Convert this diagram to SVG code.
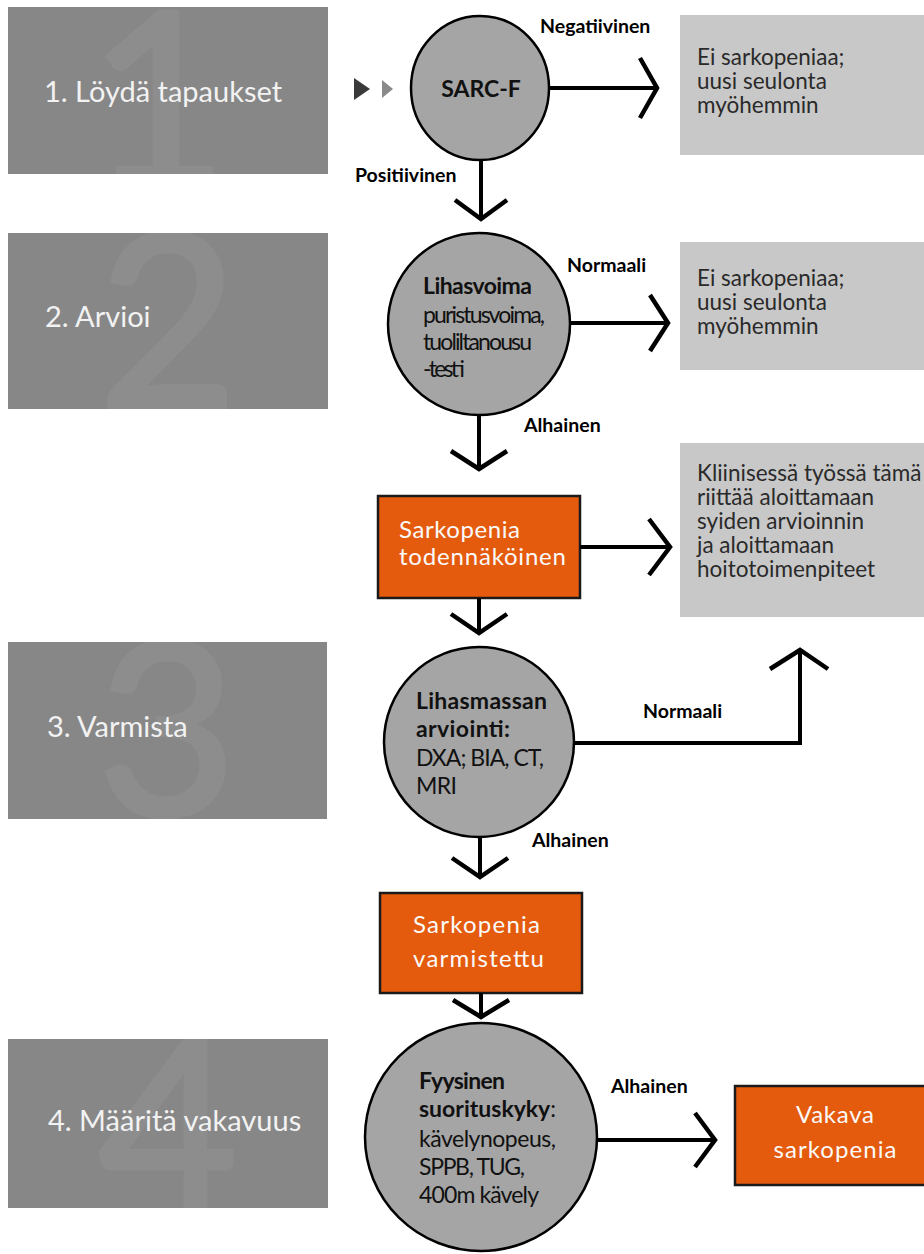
<svg xmlns="http://www.w3.org/2000/svg" width="924" height="1254" viewBox="0 0 924 1254">
<style>
.stage{fill:#878787}
.digit{fill:#8d8d8d;stroke:#8d8d8d;stroke-width:5;font-family:Lato,"Open Sans",sans-serif;font-size:240px;text-anchor:middle}
.stxt{fill:#f2f2f2;font-family:Lato,"Open Sans",sans-serif;font-size:29px}
.info{fill:#c8c8c8}
.itxt{fill:#2a2a2a;font-family:Lato,"Open Sans",sans-serif;font-size:22.5px}
.circ{fill:#a5a5a5;stroke:#000;stroke-width:2.5}
.ctxt{fill:#111;font-family:Lato,"Open Sans",sans-serif;font-size:23px}
.b{font-weight:bold}
.obox{fill:#e55b0d;stroke:#1a1a1a;stroke-width:2.5}
.otxt{fill:#fafafa;font-family:Lato,"Open Sans",sans-serif;font-size:24px}
.lbl{fill:#000;font-family:Lato,"Open Sans",sans-serif;font-size:19.5px;font-weight:bold}
.ln{fill:none;stroke:#000;stroke-width:4}
.hd{fill:none;stroke:#000;stroke-width:4.5;stroke-linejoin:miter}
</style>
<defs>
<clipPath id="c1"><rect x="8" y="7" width="320" height="167"/></clipPath>
<clipPath id="c2"><rect x="8" y="233" width="320" height="176"/></clipPath>
<clipPath id="c3"><rect x="8" y="642" width="319" height="177"/></clipPath>
<clipPath id="c4"><rect x="8" y="1039" width="320" height="169"/></clipPath>
</defs>

<g id="stage1">
<rect class="stage" x="8" y="7" width="320" height="167"/>
<text class="digit" x="158" y="185" clip-path="url(#c1)">1</text>
<text class="stxt" x="44" y="102">1. Löydä tapaukset</text>
</g>
<g id="stage2">
<rect class="stage" x="8" y="233" width="320" height="176"/>
<text class="digit" x="168" y="407" clip-path="url(#c2)">2</text>
<text class="stxt" x="45" y="327">2. Arvioi</text>
</g>
<g id="stage3">
<rect class="stage" x="8" y="642" width="319" height="177"/>
<text class="digit" x="167" y="815" clip-path="url(#c3)">3</text>
<text class="stxt" x="47" y="737">3. Varmista</text>
</g>
<g id="stage4">
<rect class="stage" x="8" y="1039" width="320" height="169"/>
<text class="digit" x="168" y="1213" clip-path="url(#c4)">4</text>
<text class="stxt" x="48" y="1131">4. Määritä vakavuus</text>
</g>

<g id="start-marker">
<polygon points="354,78 370,89 354,100" fill="#3a3a3a"/>
<polygon points="382,80 393,89 382,98" fill="#8a8a8a"/>
</g>

<g id="sarcf">
<ellipse class="circ" cx="480" cy="88" rx="69" ry="72"/>
<text class="ctxt b" x="481" y="97" text-anchor="middle" font-size="26">SARC-F</text>
</g>

<g id="info1">
<rect class="info" x="680" y="15" width="244" height="140"/>
<text class="itxt" x="697" y="65">Ei sarkopeniaa;</text>
<text class="itxt" x="697" y="89">uusi seulonta</text>
<text class="itxt" x="697" y="113">myöhemmin</text>
</g>

<g id="lihasvoima">
<circle class="circ" cx="479" cy="324" r="91"/>
<text class="ctxt b" x="423" y="294" font-size="22" textLength="109">Lihasvoima</text>
<text class="ctxt" x="423" y="323" font-size="19.5" textLength="122">puristusvoima,</text>
<text class="ctxt" x="423" y="350" font-size="19.5" textLength="109">tuoliltanousu</text>
<text class="ctxt" x="423" y="377" font-size="19.5" textLength="42">-testi</text>
</g>

<g id="info2">
<rect class="info" x="680" y="242" width="244" height="128"/>
<text class="itxt" x="697" y="286">Ei sarkopeniaa;</text>
<text class="itxt" x="697" y="310">uusi seulonta</text>
<text class="itxt" x="697" y="334">myöhemmin</text>
</g>

<g id="todennakoinen">
<rect class="obox" x="378" y="496" width="202" height="102"/>
<text class="otxt" x="399" y="538" textLength="121">Sarkopenia</text>
<text class="otxt" x="399" y="565" textLength="167">todennäköinen</text>
</g>

<g id="info3">
<rect class="info" x="680" y="443" width="244" height="174"/>
<text class="itxt" x="697" y="481">Kliinisessä työssä tämä</text>
<text class="itxt" x="697" y="505">riittää aloittamaan</text>
<text class="itxt" x="697" y="529">syiden arvioinnin</text>
<text class="itxt" x="697" y="553">ja aloittamaan</text>
<text class="itxt" x="697" y="577">hoitotoimenpiteet</text>
</g>

<g id="lihasmassa">
<circle class="circ" cx="479" cy="742" r="95"/>
<text class="ctxt b" x="416" y="709" textLength="131">Lihasmassan</text>
<text class="ctxt b" x="416" y="737" textLength="94">arviointi:</text>
<text class="ctxt" x="416" y="766" textLength="128">DXA; BIA, CT,</text>
<text class="ctxt" x="416" y="794" textLength="41">MRI</text>
</g>

<g id="varmistettu">
<rect class="obox" x="380" y="893" width="202" height="100"/>
<text class="otxt" x="413" y="933" font-size="25.5" textLength="127">Sarkopenia</text>
<text class="otxt" x="413" y="967" font-size="25.5" textLength="131">varmistettu</text>
</g>

<g id="suorituskyky">
<ellipse class="circ" cx="481" cy="1137" rx="116" ry="114"/>
<text class="ctxt b" x="419" y="1089" font-size="23.5" textLength="86">Fyysinen</text>
<text class="ctxt" x="419" y="1117" font-size="23.5" textLength="137"><tspan class="b">suorituskyky</tspan>:</text>
<text class="ctxt" x="419" y="1147" font-size="23.5" textLength="137">kävelynopeus,</text>
<text class="ctxt" x="419" y="1175" font-size="23.5" textLength="106">SPPB, TUG,</text>
<text class="ctxt" x="419" y="1203" font-size="23.5" textLength="120">400m kävely</text>
</g>

<g id="vakava">
<rect class="obox" x="735" y="1086" width="195" height="99"/>
<text class="otxt" x="835" y="1123" text-anchor="middle" font-size="26" textLength="78">Vakava</text>
<text class="otxt" x="835" y="1158" text-anchor="middle" font-size="26" textLength="123">sarkopenia</text>
</g>

<g id="connectors">
<line class="ln" x1="549" y1="88" x2="656" y2="88"/>
<polyline class="hd" points="640,58 657,88 640,118"/>
<text class="lbl" x="540" y="33">Negatiivinen</text>

<line class="ln" x1="481" y1="160" x2="481" y2="217"/>
<polyline class="hd" points="455,200 481,219 507,200"/>
<text class="lbl" x="355" y="182">Positiivinen</text>

<line class="ln" x1="570" y1="323" x2="667" y2="323"/>
<polyline class="hd" points="650,295 668,323 650,351"/>
<text class="lbl" x="567" y="272">Normaali</text>

<line class="ln" x1="479" y1="415" x2="479" y2="467"/>
<polyline class="hd" points="451,451 479,469 507,451"/>
<text class="lbl" x="524" y="432">Alhainen</text>

<line class="ln" x1="580" y1="547" x2="669" y2="547"/>
<polyline class="hd" points="649,519 670,547 649,575"/>

<line class="ln" x1="479" y1="598" x2="479" y2="631"/>
<polyline class="hd" points="451,614 479,633 507,614"/>

<polyline class="ln" points="574,743 800,743 800,652"/>
<polyline class="hd" points="770,669 800,650 828,669"/>
<text class="lbl" x="643" y="718">Normaali</text>

<line class="ln" x1="480" y1="837" x2="480" y2="875"/>
<polyline class="hd" points="452,858 480,877 508,858"/>
<text class="lbl" x="532" y="847">Alhainen</text>

<line class="ln" x1="481" y1="993" x2="481" y2="1015"/>
<polyline class="hd" points="453,1000 481,1017 509,1000"/>

<line class="ln" x1="597" y1="1140" x2="714" y2="1140"/>
<polyline class="hd" points="695,1113 715,1140 695,1167"/>
<text class="lbl" x="611" y="1093">Alhainen</text>
</g>
</svg>
